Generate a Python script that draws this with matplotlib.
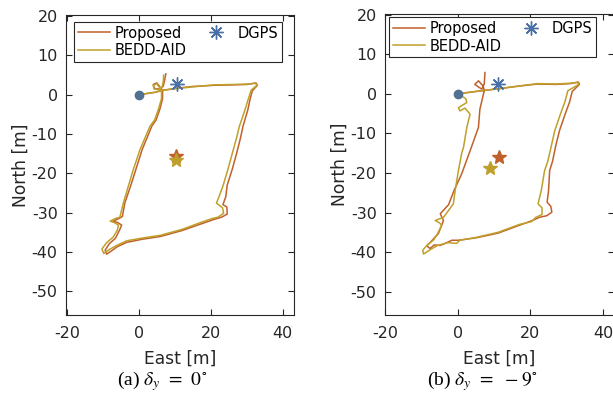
import matplotlib
matplotlib.use("Agg")
import matplotlib.pyplot as plt

plt.rcParams['font.family'] = ['DejaVu Sans']
plt.rcParams['mathtext.fontset'] = 'stix'
plt.rcParams['axes.unicode_minus'] = False

# trajectories (east, north) in metres
# panel (a): delta_y = 0 deg
prop_a_e = [0, 4.4, 6.5, 10, 15, 21, 26, 30, 32.6, 33, 31.6, 31, 30.3, 29, 28.3, 27.2, 26, 24.6, 24.2, 23.4,
            24.5, 24.6, 23, 20.8, 17, 12, 6, 1, -3.4, -6, -8, -9, -9.4, -8.3, -6.5, -5.4, -4.8, -6, -7.4,
            -5.5, -4.6, -3.9, -2.4, -0.9, 0.9, 3.6, 4.8, 5.8, 6.6, 6.6, 5, 4, 4.3, 5.8, 6.8, 7.2, 7.5]
prop_a_n = [0, 0.6, 1.1, 1.6, 2.1, 2.4, 2.5, 2.6, 3.0, 2.4, 1.0, -1, -4, -8, -11, -15, -19, -23, -26, -28,
            -28.6, -30.4, -31.2, -31.8, -33, -34.6, -36.1, -36.8, -37.6, -38.7, -40, -40.6, -39.6, -38, -36.5,
            -34.5, -33.2, -32.5, -32.3, -31.5, -31, -27.5, -23.5, -19.2, -14, -8, -6.4, -3.8, -1, 1.1, 3, 2.6,
            1.6, 1.4, 2.2, 3.8, 5.3]
bedd_a_e = [0, 4.4, 6.5, 10, 15, 21, 26, 30, 32.5, 32.9, 31.3, 30.5, 29.5, 28, 27.2, 26, 24.8, 23.5, 22.3,
            21.6, 23.3, 23.6, 22, 20.5, 17, 12, 6, 1, -3.4, -6, -8, -9.8, -10.3, -9, -7.2, -6, -5.7, -7, -8,
            -6.5, -5.3, -4.3, -3, -1.6, 0.3, 3.1, 4.4, 5.4, 6.3, 6.3, 5, 4, 4.2, 5.5, 6.5, 6.8, 6.9]
bedd_a_n = [0, 0.6, 1.1, 1.5, 2.0, 2.5, 2.6, 2.7, 2.9, 2.4, 1.2, -1, -4, -8, -11, -15, -19, -23, -26,
            -27.6, -28.8, -30.2, -31.2, -31.5, -32.6, -34.3, -35.8, -36.5, -37.2, -38.3, -39.3, -40.4, -39.3,
            -37.7, -36.3, -34.5, -33.2, -32.5, -32.2, -31.5, -31.2, -27.5, -23.5, -19.2, -14, -8, -6.4, -3.8,
            -1, 1.1, 2.8, 2.4, 1.5, 1.3, 2.0, 3.5, 5.0]

# panel (b): delta_y = -9 deg
prop_b_e = [0, 4, 7.5, 12, 17, 22, 27, 31, 33.2, 33.5, 31.5, 30.8, 29.6, 28, 27, 26.1, 25.3, 25, 24.6,
            25.6, 25.9, 24.5, 22.5, 20.6, 17, 11.1, 5, 0.2, -1.6, -3, -4.8, -6.5, -7.6, -8.5, -7.5, -6.5,
            -5.3, -3.9, -4.8, -2.5, -1, 1.1, 3.4, 5.7, 6.1, 7.3, 7, 5.7, 4.7, 6.6, 7.3, 7.5]
prop_b_n = [0, 0.5, 0.9, 1.4, 2.0, 2.5, 2.4, 2.6, 3.0, 2.4, 0.6, -2, -5, -9.3, -13, -17, -19.4, -24.4,
            -27.4, -28.4, -29.9, -30.8, -31.2, -32, -33.2, -35.2, -36.4, -37, -37, -37.6, -38.3, -38.2,
            -39.1, -38.4, -37.5, -36.5, -35.3, -32, -30.3, -28, -24.4, -20.2, -14.4, -8.5, -3.9, 0.8, 2,
            3.3, 2.4, 1.2, 2.5, 5.4]
bedd_b_e = [0, 4, 7.5, 12, 17, 22, 27, 31, 33, 33.3, 30.3, 29.5, 28.3, 26.7, 25.8, 24.8, 23.9, 23, 22.1,
            23.2, 23.2, 21.5, 20.3, 17, 11.1, 5, 0.6, -0.3, -2.6, -5.5, -7.6, -9.4, -9.6, -8.5, -6.7, -5.8,
            -4.4, -5, -6.2, -3.9, -1.2, -0.7, 0.2, 1.1, 1.6, 2.5, 2.9, 3.4, 2.0, 0.6, 0.2, 1.2, 2.5, 2.2, 1.2]
bedd_b_n = [0, 0.5, 0.9, 1.4, 2.0, 2.6, 2.5, 2.7, 2.9, 2.4, 0.8, -2, -5, -9.3, -13, -17, -19.4, -24.4,
            -27.8, -28.8, -30.5, -31.2, -32.3, -33, -35, -36.3, -37, -37.8, -37.6, -38.3, -39.4, -40.5,
            -39.5, -38.3, -37, -35.8, -33.2, -32.6, -32, -31.2, -27.8, -24.4, -19.4, -15, -13.5, -8.5, -7,
            -5.1, -3.6, -4.3, -3.5, -2.9, -2.2, -1.2, -0.6]

# final position estimates (stars) and DGPS reference
star_prop = [(10.3, -15.7), (11.3, -15.9)]
star_bedd = [(10.3, -16.5), (8.9, -18.8)]
dgps = [(10.6, 2.7), (11.0, 2.4)]
start = (0, 0)

captions = [r'(a) $\delta_y\;\,=\;\,0^{\circ}$', r'(b) $\delta_y\;\,=\;\,-9^{\circ}$']

c_prop = '#C0612C'
c_bedd = '#BFA02A'
c_dgps = '#4A6EA6'
c_start = '#52708F'
dark = '#262626'

fig = plt.figure(figsize=(6.13, 4.04), dpi=100)
ax_a = fig.add_axes([66 / 613, 1 - 315 / 404, 228 / 613, 300 / 404])
ax_b = fig.add_axes([385 / 613, 1 - 315 / 404, 229 / 613, 301 / 404])

panels = [(ax_a, prop_a_e, prop_a_n, bedd_a_e, bedd_a_n, (-20.3, 43.2), (-56.1, 20.3), (0.035, 0.977)),
          (ax_b, prop_b_e, prop_b_n, bedd_b_e, bedd_b_n, (-19.45, 43.0), (-55.9, 20.2), (0.017, 0.99))]

for i, (ax, pe, pn, be, bn, xl, yl, lpos) in enumerate(panels):
    ax.plot(pe, pn, color=c_prop, lw=1.1, label='Proposed')
    ax.plot(be, bn, color=c_bedd, lw=1.1, label='BEDD-AID')
    ax.plot(*dgps[i], ls='none', marker=(8, 2, 0), ms=10, mew=1.0, color=c_dgps, label='DGPS')
    ax.plot(*star_prop[i], ls='none', marker='*', ms=10, color=c_prop)
    ax.plot(*star_bedd[i], ls='none', marker='*', ms=10, color=c_bedd)
    ax.plot(*start, ls='none', marker='o', ms=6, color=c_start)

    ax.set_xlim(*xl)
    ax.set_ylim(*yl)
    ax.set_xticks([-20, 0, 20, 40])
    ax.set_yticks([-50, -40, -30, -20, -10, 0, 10, 20])
    ax.tick_params(direction='in', length=4, width=0.8, top=True, right=True,
                   labelsize=11.5, colors=dark, labelcolor=dark)
    ax.tick_params(axis='x', pad=8)
    ax.tick_params(axis='y', pad=6)
    for s in ax.spines.values():
        s.set_color(dark)
        s.set_linewidth(0.8)
    ax.set_xlabel('East [m]', fontsize=12.3, color=dark, labelpad=6)
    ax.set_ylabel('North [m]', fontsize=12.3, color=dark, labelpad=1)

    leg = ax.legend(ncol=2, loc='upper left', bbox_to_anchor=lpos, borderaxespad=0,
                    fontsize=10.5, handlelength=2.2, handletextpad=0.35, columnspacing=0.9,
                    labelspacing=0.2, borderpad=0.25, fancybox=False, framealpha=1)
    leg.get_frame().set_edgecolor(dark)
    leg.get_frame().set_linewidth(0.8)

fig.text(162 / 613, 1 - 381 / 404, captions[0], family='Liberation Serif', fontsize=14,
         ha='center', va='center')
fig.text(482 / 613, 1 - 381 / 404, captions[1], family='Liberation Serif', fontsize=14,
         ha='center', va='center')

fig.savefig('out.png', dpi=100)
